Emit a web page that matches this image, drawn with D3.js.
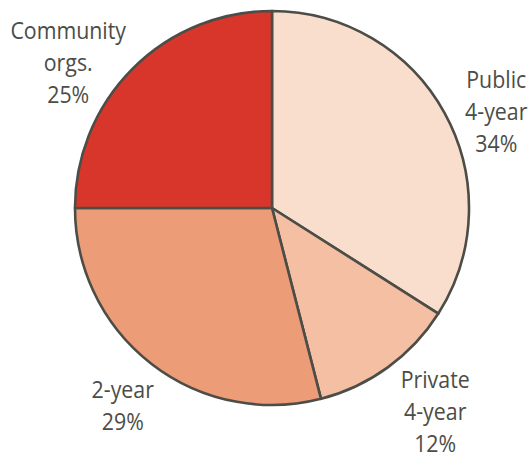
<!DOCTYPE html>
<html>
<head>
<meta charset="utf-8">
<script src="https://cdn.jsdelivr.net/npm/d3@7"></script>
<style>
  html, body { margin: 0; padding: 0; background: #fff; }
  svg { display: block; }
</style>
</head>
<body>
<svg id="chart" width="529" height="458"></svg>
<script>
// Share of programs by provider type
const categories = ["Public\n4-year", "Private\n4-year", "2-year", "Community\norgs."];
const shares = [34, 12, 29, 25];
const colors = ["#fadecd", "#f5bfa3", "#ec9c77", "#d9362b"];

const svg = d3.select("#chart");
const cx = 272, cy = 208, radius = 197;

const pie = d3.pie().sort(null).value(d => d.value);
const arcs = pie(categories.map((c, i) => ({ name: c, value: shares[i], color: colors[i] })));
const arc = d3.arc().innerRadius(0).outerRadius(radius);

const g = svg.append("g").attr("transform", `translate(${cx},${cy})`);

g.selectAll("path")
  .data(arcs)
  .join("path")
  .attr("d", arc)
  .attr("fill", d => d.data.color)
  .attr("stroke", "#4b4d46")
  .attr("stroke-width", 2.6)
  .attr("stroke-linejoin", "round");

// Labels sit outside the pie along each slice's mid-angle, nudged to clear the rim
const labelLayout = [
  { r: 244, da: 5.6 },
  { r: 261, da: -2.7 },
  { r: 248, da: -0.8 },
  { r: 250, da: -9.6 }
];
const lineH = 32;

arcs.forEach((d, i) => {
  const mid = (d.startAngle + d.endAngle) / 2 + labelLayout[i].da * Math.PI / 180;
  const x = Math.sin(mid) * labelLayout[i].r;
  const y = -Math.cos(mid) * labelLayout[i].r;
  const lines = d.data.name.split("\n").concat([d.data.value + "%"]);
  const t = g.append("text")
    .attr("text-anchor", "middle")
    .attr("font-family", "'Open Sans', sans-serif")
    .attr("font-size", 24)
    .attr("fill", "#4c4d46")
    .attr("transform", `translate(${x},${y}) scale(0.89,1)`);
  const y0 = -(lines.length - 1) * lineH / 2 + 8;
  lines.forEach((ln, k) => {
    t.append("tspan").attr("x", 0).attr("y", y0 + k * lineH).text(ln);
  });
});
</script>
</body>
</html>
